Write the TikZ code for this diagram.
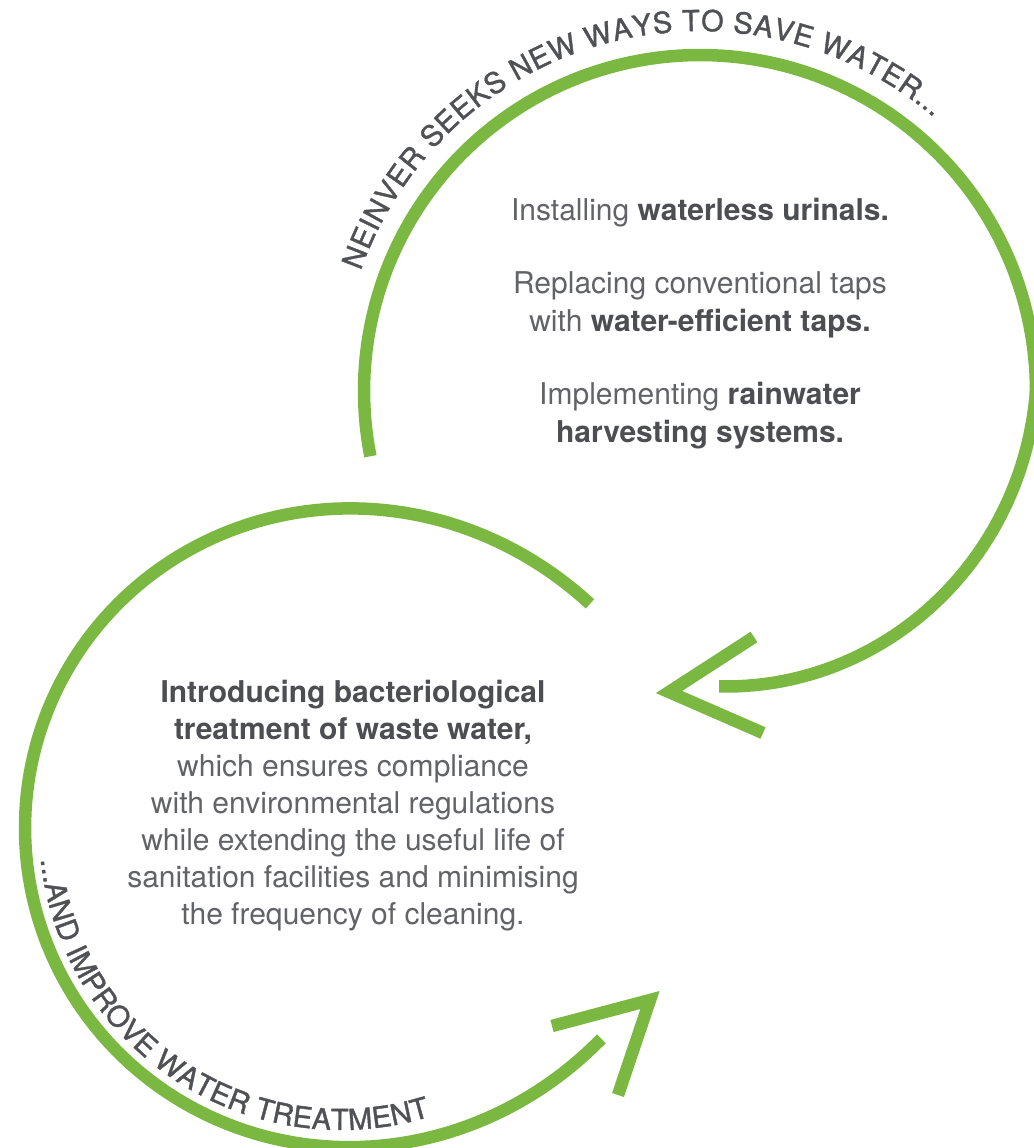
\documentclass[tikz,border=0pt]{standalone}
\usepackage{fontspec}
\setmainfont{TeX Gyre Heros}
\newfontfamily\capfont{TeX Gyre Heros}[FakeBold=1.3]
\usetikzlibrary{decorations.text}

\definecolor{leafgreen}{RGB}{122,184,66}
\definecolor{bodygray}{RGB}{98,99,102}
\definecolor{boldgray}{RGB}{77,78,81}
\definecolor{capgray}{RGB}{80,81,85}

\newcommand{\hl}[1]{{\bfseries\color{boldgray}#1}}
\newcommand{\curvefont}{\capfont\fontsize{29}{29}\selectfont}

\begin{document}
\begin{tikzpicture}[x=1pt, y=-1pt,
    ring/.style={draw=leafgreen, line width=12.5pt, line cap=butt},
    head/.style={draw=leafgreen, line width=12.5pt, line cap=butt, line join=miter},
    body/.style={align=center, inner sep=0pt, text=bodygray, font=\fontsize{30}{38}\selectfont},
    curved/.style={decorate, decoration={text along path, text align=fit to path, text color=capgray}},
    declare function={rup(\t)=336-40*max(0,\t-360)/86.3;
                      rlow(\t)=316+19*abs((\t+181.5)/139.5)^4;}]

    \useasboundingbox (0,0) rectangle (1033,1148);

    % Upper loop
    \draw[ring] plot[domain=168.8:446.3, samples=160] ({700+rup(\x)*cos(\x)}, {391+rup(\x)*sin(\x)});
    \draw[head] (754,637) -- (669,692) -- (763,733);

    % Lower loop
    \draw[ring] plot[domain=-321:-42, samples=160] ({341+rlow(\x)*cos(\x)}, {828+rlow(\x)*sin(\x)});
    \draw[head] (552,1026) -- (650,1000) -- (618,1095);

    % Curved titles
    \path[curved, decoration={text={|\curvefont|NEINVER SEEKS NEW WAYS TO SAVE WATER...}}]
        plot[domain=199.5:310.5, samples=90] ({700+360*cos(\x)}, {391+360*sin(\x)});
    \path[curved, decoration={text={|\curvefont|...AND IMPROVE WATER TREATMENT}}]
        plot[domain=0:1, samples=90] ({341+302*cos(174-101.3*\x)}, {828+302*sin(174-101.3*\x)});

    % Texts
    \node[body, anchor=north] (saving) at (700,195) {\rule{0pt}{25pt}Installing \hl{waterless urinals.}\\[35pt]
        Replacing conventional taps\\ with \hl{water-efficient taps.}\\[35pt]
        Implementing \hl{rainwater}\\ \hl{harvesting systems.}};
    \node[body, anchor=north, font=\fontsize{30}{37}\selectfont] (treating) at (353,677) {\rule{0pt}{25pt}\hl{Introducing bacteriological}\\
        \hl{treatment of waste water,}\\ which ensures compliance\\
        with environmental regulations\\ while extending the useful life of\\
        sanitation facilities and minimising\\ the frequency of cleaning.};
\end{tikzpicture}
\end{document}
